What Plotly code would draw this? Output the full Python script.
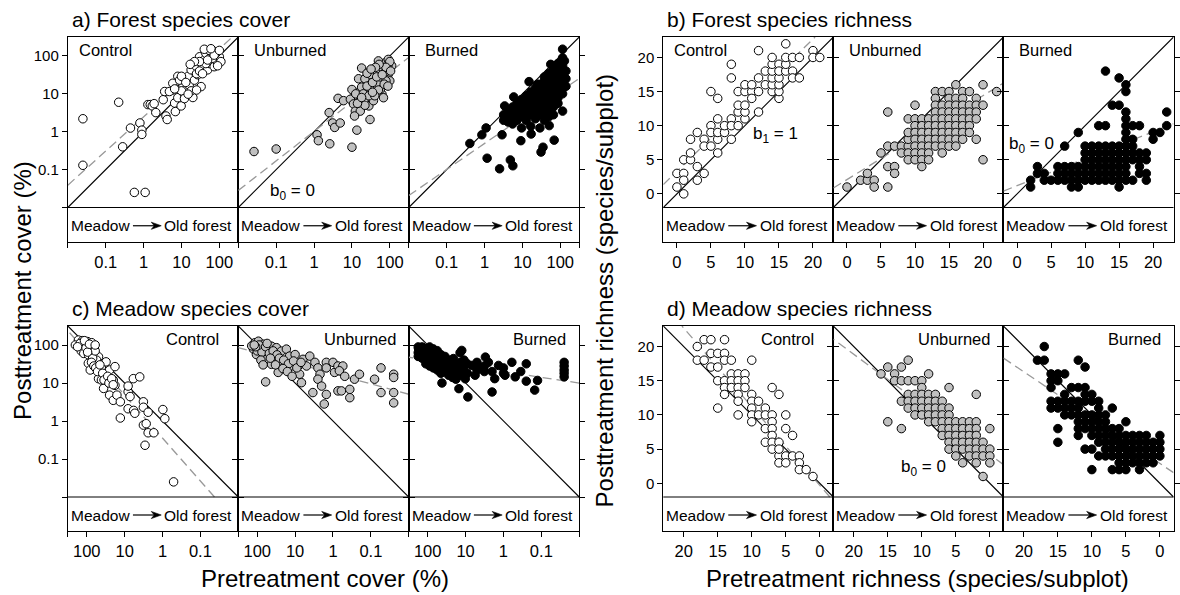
import numpy as np
import plotly.graph_objects as go

FONT = "Liberation Sans, Arial, Helvetica, sans-serif"
W, H = 1180, 595

treatments = ["Control", "Unburned", "Burned"]
fills = {"Control": "white", "Unburned": "#c0c0c0", "Burned": "black"}

# ---------------- data: (pretreatment, posttreatment) ----------------
# a) Forest species cover (%)
a_control = [(0.025, 2.2), (0.025, 0.13), (0.22, 6), (0.28, 0.4), (0.45, 1.25), (0.57, 0.025), (1.1, 0.025),
             (0.8, 1.7), (0.9, 1.1), (0.9, 0.85), (1.3, 5.2), (1.5, 5.2), (1.7, 4.8), (1.9, 5.5), (2.1, 3.2),
             (3.3, 7), (3.6, 11.5), (3.9, 2.6), (4.2, 2.1), (5.9, 12.6), (6.6, 5.7), (6.9, 3.4), (8, 29),
             (8.9, 13), (9.8, 4.8), (8, 7.9), (11, 16), (12, 9.8), (13, 13), (15, 29), (16, 17), (18, 43),
             (20, 8), (22, 23), (25, 52), (27, 32), (30, 95), (33, 15.5), (36, 52), (40, 78), (44, 117),
             (49, 43), (55, 63), (60, 95), (66, 140), (73, 52), (81, 78), (100, 95), (110, 71), (5.9, 19),
             (4.8, 11.5), (8.9, 23), (10, 29), (13, 20), (18, 12), (25, 34), (30, 40), (36, 34), (44, 63),
             (55, 140), (66, 87), (81, 117), (90, 55), (30, 71), (40, 150), (22, 71), (17, 60), (49, 78),
             (73, 105), (60, 155), (100, 140), (10, 12), (12, 7.5), (6.6, 13.5), (15, 9.8), (25, 12.6)]
a_unburned = [(0.026, 0.30), (0.10, 0.35), (1.2, 0.83), (1.3, 0.58), (2.6, 0.48), (2.5, 3.2), (3.1, 1.7),
              (3.5, 1.3), (4.9, 1.7), (4.3, 7.6), (6.0, 6.6), (10, 0.39), (13.5, 1.1), (30, 2.1), (10, 13),
              (9.1, 7.2), (11, 5.4), (12.3, 3.5), (16.6, 3.5), (11.7, 2.6), (18, 48), (15, 25), (22, 25),
              (18, 15), (25, 9.8), (28, 4.8), (34, 7.2), (41, 30), (41, 15), (50, 49), (62, 25), (62, 9.8),
              (76, 66), (76, 18), (91, 33), (91, 81), (112, 55), (100, 22), (50, 74), (68, 7.9), (30, 13),
              (37, 6.6), (25, 16), (56, 13), (83, 40), (46, 20), (12.6, 10), (16, 6.3), (20, 10), (32, 32),
              (35, 20), (45, 40), (50, 12.6), (56, 28), (63, 50), (71, 35), (79, 22), (89, 56), (100, 71),
              (25, 35), (28, 8.9), (40, 8.9), (22, 5), (14, 5.6), (18, 8), (35, 11), (45, 28), (71, 18),
              (79, 50), (105, 40), (52, 60), (42, 50), (32, 45), (89, 16), (63, 32)]
a_burned = [(0.41, 0.49), (0.85, 0.83), (1.1, 1.26), (1.17, 0.2), (2.5, 0.105), (2.9, 0.83), (3.4, 4.8),
            (4.8, 0.18), (5.6, 0.126), (5.9, 8.3), (9.1, 0.58), (15, 21), (17, 0.87), (31, 0.29), (35, 0.39),
            (69, 0.6), (51, 1.45), (115, 151), (129, 74), (105, 41), (85, 22), (115, 3.5), (56, 60), (25, 18),
            (3.2, 2.0), (3.2, 2.8), (4.2, 1.8), (4.2, 2.5), (4.2, 3.5), (5.5, 1.6), (5.5, 2.2), (5.5, 3.2),
            (5.5, 4.5), (7.2, 2.0), (7.2, 2.8), (7.2, 4.0), (7.2, 5.6), (9.5, 1.26), (9.5, 2.5), (9.5, 3.5),
            (9.5, 5.0), (9.5, 7.1), (12.6, 2.0), (12.6, 3.2), (12.6, 4.5), (12.6, 6.3), (12.6, 8.9),
            (16.6, 1.4), (16.6, 2.8), (16.6, 4.0), (16.6, 5.6), (16.6, 7.9), (16.6, 11.2), (22, 2.2),
            (22, 3.5), (22, 5.0), (22, 7.1), (22, 10), (22, 14), (29, 1.26), (29, 2.8), (29, 4.5), (29, 6.3),
            (29, 8.9), (29, 12.6), (29, 17.8), (38, 2.0), (38, 3.2), (38, 5.0), (38, 7.9), (38, 11.2),
            (38, 15.8), (38, 22), (38, 28), (50, 2.5), (50, 4.0), (50, 6.3), (50, 8.9), (50, 12.6),
            (50, 17.8), (50, 25), (50, 35), (66, 2.8), (66, 4.5), (66, 7.1), (66, 10), (66, 14), (66, 20),
            (66, 28), (66, 40), (66, 52), (87, 5.6), (87, 7.9), (87, 11.2), (87, 15.8), (87, 22), (87, 32),
            (87, 45), (87, 63), (115, 10), (115, 14), (115, 20), (115, 28), (115, 40), (115, 56), (115, 89),
            (141, 15.8), (141, 25), (141, 40)]

# b) Forest species richness (species/subplot)
b_control = [(0, 3), (1, 3), (0, 1), (1, 0), (1, 2), (1, 5), (2, 5), (2, 6), (2, 8), (3, 2), (3, 4), (3, 9),
             (4, 3), (4, 8), (4, 7), (5, 7), (5, 10), (5, 15), (5, 9), (6, 8), (6, 9), (6, 11), (6, 6), (6, 14),
             (7, 9), (7, 10), (8, 8), (8, 11), (8, 17), (8, 19), (8, 10), (9, 10), (9, 12), (9, 13), (9, 15),
             (10, 11), (10, 12), (10, 13), (10, 15), (10, 16), (11, 15), (11, 16), (11, 14), (12, 12), (12, 17),
             (12, 21), (12, 15), (13, 16), (13, 18), (14, 15), (14, 16), (14, 17), (14, 18), (14, 19), (14, 20),
             (15, 14), (15, 15), (15, 16), (15, 17), (15, 19), (15, 18), (16, 18), (16, 19), (16, 22), (16, 20),
             (17, 18), (17, 17), (17, 20), (18, 20), (18, 17), (20, 21), (20, 20), (21, 20)]
b_unburned = [(0, 1), (2, 2), (3, 2), (3, 3), (4, 2), (4, 1), (5, 6), (6, 7), (6, 4), (6, 12), (6, 1), (7, 7),
              (7, 4), (7, 3), (8, 7), (8, 6), (9, 7), (9, 11), (9, 6), (9, 5), (9, 8), (9, 9), (10, 13), (10, 11),
              (10, 10), (10, 9), (10, 8), (10, 7), (10, 6), (10, 5), (11, 11), (11, 10), (11, 9), (11, 8),
              (11, 7), (11, 6), (11, 5), (11, 4), (12, 11), (12, 10), (12, 9), (12, 8), (12, 7), (12, 6),
              (12, 5), (13, 15), (13, 14), (13, 13), (13, 12), (13, 11), (13, 10), (13, 9), (13, 8), (13, 7),
              (14, 15), (14, 13), (14, 12), (14, 11), (14, 10), (14, 9), (14, 8), (14, 7), (14, 6), (15, 15),
              (15, 14), (15, 13), (15, 12), (15, 11), (15, 10), (15, 9), (15, 8), (15, 7), (16, 16), (16, 14),
              (16, 13), (16, 12), (16, 11), (16, 10), (16, 9), (16, 8), (16, 7), (17, 15), (17, 14), (17, 13),
              (17, 12), (17, 11), (17, 10), (17, 9), (17, 8), (18, 15), (18, 13), (18, 12), (18, 11), (18, 10),
              (18, 9), (19, 14), (19, 13), (19, 12), (19, 11), (19, 8), (20, 16), (20, 13), (20, 5), (22, 15)]
b_burned = [(2, 1), (2, 2), (3, 4), (3, 3), (4, 3), (4, 2), (5, 2), (6, 2), (6, 3), (6, 4), (7, 2), (7, 3),
            (7, 4), (7, 7), (8, 1), (8, 2), (8, 3), (8, 4), (9, 1), (9, 2), (9, 3), (9, 4), (9, 9), (10, 2),
            (10, 3), (10, 4), (10, 5), (10, 6), (10, 7), (11, 2), (11, 3), (11, 4), (11, 5), (11, 6), (11, 7),
            (12, 2), (12, 3), (12, 4), (12, 5), (12, 6), (12, 7), (12, 10), (13, 2), (13, 3), (13, 4), (13, 5),
            (13, 6), (13, 7), (13, 10), (13, 18), (14, 2), (14, 3), (14, 4), (14, 5), (14, 6), (14, 7), (14, 13),
            (15, 1), (15, 2), (15, 3), (15, 4), (15, 5), (15, 6), (15, 7), (15, 13), (15, 17), (16, 2), (16, 3),
            (16, 4), (16, 5), (16, 6), (16, 7), (16, 8), (16, 9), (16, 10), (16, 11), (16, 12), (16, 15),
            (16, 16), (17, 2), (17, 5), (17, 6), (17, 7), (17, 8), (17, 10), (18, 3), (18, 4), (18, 5), (18, 6),
            (18, 10), (19, 2), (19, 3), (19, 5), (19, 6), (20, 8), (20, 9), (21, 9), (22, 10), (22, 12)]

# c) Meadow species cover (%)
c_control = [(166, 135), (123, 110), (95, 123), (74, 115), (148, 91), (110, 74), (85, 81), (66, 60), (49, 49),
             (91, 33), (81, 22), (55, 40), (41, 27), (31, 36), (45, 18), (49, 13), (41, 12), (31, 14.5),
             (25, 22), (18, 27), (36, 7.2), (25, 4.8), (20, 3.5), (18, 8.7), (20, 12), (16, 4.8), (13, 1.2),
             (13, 3.2), (8.1, 5.9), (7.2, 4.4), (8.1, 2.1), (5.9, 13), (4.0, 14.5), (8.1, 8.3), (5.8, 1.9),
             (5.4, 1.6), (3.2, 3.2), (3.2, 2.3), (2.4, 1.7), (3.2, 0.78), (2.7, 0.85), (2.9, 0.23),
             (2.4, 0.49), (1.7, 0.49), (0.98, 2.0), (0.87, 1.15), (0.51, 0.025), (200, 100), (130, 130),
             (100, 95), (80, 90), (140, 70), (120, 60), (90, 55), (70, 45), (60, 70), (150, 110), (105, 85),
             (115, 130), (75, 35), (65, 28), (58, 25), (52, 20), (45, 30), (38, 18), (35, 12), (28, 15),
             (26, 10), (22, 13), (20, 9), (95, 65), (85, 105), (175, 90), (60, 100)]
c_unburned = [(126, 78), (115, 115), (93, 126), (85, 85), (69, 105), (105, 56), (63, 56), (51, 78), (42, 93),
              (31, 85), (23, 69), (17, 78), (56, 42), (42, 31), (28, 19), (19, 35), (14, 51), (10, 56),
              (35, 51), (25, 38), (12.6, 28), (8.3, 28), (6.2, 42), (4.1, 51), (5.0, 28), (7.6, 17), (3.0, 35),
              (2.5, 25), (2.2, 17), (2.5, 12.6), (2.0, 8.3), (3.4, 5.6), (1.5, 35), (1.0, 35), (1.5, 25),
              (0.91, 19), (0.74, 28), (0.55, 28), (0.68, 21), (1.5, 5.0), (1.7, 2.8), (0.74, 6.2), (0.6, 6.2),
              (0.36, 6.8), (0.36, 4.1), (0.49, 15), (0.27, 12.6), (0.2, 17), (0.08, 12.6), (0.054, 25),
              (0.054, 5.6), (0.025, 17), (0.025, 14), (0.025, 5.6), (0.025, 3.0), (60, 10.7), (6.8, 10.2),
              (140, 95), (100, 70), (75, 65), (90, 100), (60, 90), (48, 60), (38, 70), (30, 55), (26, 45),
              (20, 40), (15, 32), (11, 38), (9, 25), (7, 35), (45, 45), (33, 30), (21, 24), (16, 20), (12, 15),
              (80, 40), (70, 30), (110, 90), (55, 110), (120, 100)]
c_burned = [(174, 79), (141, 59), (115, 72), (93, 54), (78, 72), (63, 44), (47, 32), (42, 10), (35, 40),
            (25, 26), (21, 44), (17, 19.5), (15, 7.1), (12.6, 72), (11.2, 26), (10.2, 12.9), (8.7, 4.3),
            (6.8, 29), (5.6, 16), (4.1, 26), (3.0, 48), (2.5, 35), (2.0, 5.8), (1.7, 13), (1.35, 29),
            (0.91, 16), (0.6, 35), (0.49, 14.5), (0.25, 32), (0.25, 11.2), (0.15, 6.5), (0.126, 11.7),
            (0.025, 35), (0.025, 28), (0.025, 22), (0.025, 18), (0.025, 14.5), (178, 89), (178, 63),
            (178, 50), (141, 89), (141, 71), (141, 45), (112, 79), (112, 56), (112, 40), (112, 32), (89, 89),
            (89, 63), (89, 40), (89, 28), (71, 79), (71, 56), (71, 35), (71, 25), (56, 71), (56, 50), (56, 32),
            (56, 22), (45, 56), (45, 35), (45, 25), (45, 18), (35, 50), (35, 28), (35, 20), (28, 40), (28, 32),
            (28, 22), (28, 16), (22, 35), (22, 20), (22, 14), (18, 32), (18, 25), (18, 12.6), (14, 63),
            (14, 35), (14, 20), (14, 16), (11, 40), (11, 20), (9, 32), (9, 18), (5, 35), (5, 22), (3.2, 28),
            (3.2, 20), (2, 20), (1, 25), (1, 18), (0.35, 20)]

# d) Meadow species richness (species/subplot)
d_control = [(18, 20), (18, 18), (17, 18), (17, 21), (16, 21), (16, 17), (16, 19), (15, 19), (15, 17), (15, 15),
             (15, 11), (14, 21), (14, 19), (14, 18), (14, 15), (14, 14), (14, 13), (13, 18), (13, 16), (13, 15),
             (13, 14), (12, 16), (12, 15), (12, 14), (12, 13), (12, 12), (12, 10), (11, 16), (11, 15), (11, 14),
             (10, 18), (10, 13), (10, 12), (10, 11), (10, 10), (10, 9), (9, 12), (9, 10), (8, 11), (8, 10),
             (8, 8), (8, 6), (7, 14), (7, 10), (7, 9), (7, 8), (7, 7), (7, 6), (7, 5), (6, 13), (6, 6), (6, 4),
             (6, 3), (6, 5), (5, 10), (5, 8), (5, 4), (5, 3), (4, 7), (4, 4), (3, 4), (3, 3), (3, 2), (2, 2),
             (1, 1)]
d_unburned = [(16, 16), (15, 17), (15, 9), (14, 16), (14, 15), (13, 17), (13, 15), (13, 12), (13, 8), (12, 18),
              (12, 15), (12, 13), (12, 12), (12, 11), (11, 15), (11, 13), (11, 12), (11, 11), (11, 10), (10, 15),
              (10, 14), (10, 13), (10, 12), (10, 11), (10, 10), (9, 16), (9, 13), (9, 12), (9, 11), (9, 10),
              (9, 9), (8, 13), (8, 12), (8, 11), (8, 10), (8, 9), (7, 12), (7, 11), (7, 10), (7, 9), (7, 8),
              (7, 7), (6, 14), (6, 11), (6, 10), (6, 9), (6, 8), (6, 7), (6, 6), (6, 5), (5, 9), (5, 8), (5, 7),
              (5, 6), (5, 5), (5, 4), (4, 9), (4, 8), (4, 7), (4, 6), (4, 5), (4, 3), (3, 9), (3, 8), (3, 7),
              (3, 6), (3, 5), (3, 4), (2, 13), (2, 9), (2, 8), (2, 7), (2, 6), (2, 5), (2, 4), (2, 3), (1, 6),
              (1, 5), (1, 4), (1, 1), (0, 8), (0, 5), (0, 4), (0, 3)]
d_burned = [(18, 18), (17, 18), (17, 20), (16, 16), (16, 15), (16, 14), (16, 12), (16, 11), (15, 16), (15, 15),
            (15, 12), (15, 11), (15, 8), (15, 6), (14, 16), (14, 13), (14, 12), (14, 11), (14, 10), (13, 14),
            (13, 12), (13, 11), (13, 10), (12, 18), (12, 14), (12, 12), (12, 11), (12, 10), (12, 9), (12, 8),
            (12, 7), (11, 17), (11, 14), (11, 13), (11, 12), (11, 10), (11, 9), (11, 8), (11, 5), (10, 13),
            (10, 12), (10, 10), (10, 9), (10, 8), (10, 7), (10, 5), (10, 2), (9, 12), (9, 11), (9, 10), (9, 9),
            (9, 8), (9, 7), (9, 6), (9, 4), (8, 10), (8, 9), (8, 8), (8, 7), (8, 6), (8, 5), (8, 4), (7, 11),
            (7, 8), (7, 7), (7, 6), (7, 5), (7, 4), (7, 2), (6, 8), (6, 7), (6, 6), (6, 5), (6, 4), (6, 3),
            (6, 2), (5, 9), (5, 7), (5, 6), (5, 5), (5, 4), (5, 3), (5, 2), (4, 7), (4, 6), (4, 5), (4, 4),
            (4, 3), (3, 7), (3, 6), (3, 5), (3, 4), (3, 3), (3, 2), (2, 7), (2, 6), (2, 5), (2, 4), (2, 3),
            (1, 6), (1, 5), (1, 4), (1, 3), (0, 7), (0, 6), (0, 5), (0, 4)]

# fitted lines (intercept, slope); cover panels in log10 units
fits = {
    "a": [(0.39, 0.90), (0.01, 0.78), (-0.31, 0.687)],
    "b": [(3.3, 0.97), (2.1, 0.615), (1.2, 0.395)],
    "c": [(-0.45, 1.13), (1.25, 0.273), (1.30, 0.151)],
    "d": [(-0.3, 1.15), (4.2, 0.733), (2.9, 0.67)],
}
data = {"a": [a_control, a_unburned, a_burned], "b": [b_control, b_unburned, b_burned],
        "c": [c_control, c_unburned, c_burned], "d": [d_control, d_unburned, d_burned]}

# coefficient notes: (group, panel index, x, y, text)
notes = [("a", 1, 0.27, 0.025, "b<sub>0</sub> = 0"), ("b", 0, 14.5, 8.6, "b<sub>1</sub> = 1"),
         ("b", 2, 2.1, 7.2, "b<sub>0</sub> = 0"), ("d", 1, 9.8, 2.2, "b<sub>0</sub> = 0")]

cover_ticks = [0.1, 1, 10, 100]
cover_ticktext = ["0.1", "1", "10", "100"]
rich_ticks = [0, 5, 10, 15, 20]

groups = {
    "a": dict(title="a) Forest species cover", left=68, pw=170.9, top=37, sep=207.5, bot=242, log=True, rev=False, side="left"),
    "b": dict(title="b) Forest species richness", left=665, pw=170.5, top=37, sep=207.5, bot=242, log=False, rev=False, side="left"),
    "c": dict(title="c) Meadow species cover", left=68, pw=170.9, top=326, sep=497, bot=531, log=True, rev=True, side="right"),
    "d": dict(title="d) Meadow species richness", left=665, pw=170.5, top=326, sep=497, bot=531, log=False, rev=True, side="right"),
}

fig = go.Figure()
layout = {}
annotations = []
shapes = []


def px(xp):
    return xp / W


def py(yp):
    return 1 - yp / H


k = 0
for g, P in groups.items():
    lo, hi = (-2.0, 2.5) if P["log"] else (-2.0, 23.0)
    strip = (P["bot"] - P["sep"]) / (P["sep"] - P["top"]) * (hi - lo)
    for i, t in enumerate(treatments):
        k += 1
        sfx = "" if k == 1 else str(k)
        xa, ya = "x" + sfx, "y" + sfx
        x0 = P["left"] + i * P["pw"]
        x1 = x0 + P["pw"]
        common = dict(showgrid=False, zeroline=False, showline=True, linecolor="black", linewidth=1,
                      ticks="outside", ticklen=5, tickwidth=1, tickcolor="black")
        if P["log"]:
            xt, xtt = cover_ticks, cover_ticktext
            yt, ytt = cover_ticks, cover_ticktext
            xminor = dict(tickmode="array", tickvals=[10 ** lo, 10 ** hi], ticks="outside", ticklen=5,
                          tickwidth=1, tickcolor="black", showgrid=False)
            yminor = dict(tickmode="array", tickvals=[10 ** lo], ticks="outside", ticklen=5,
                          tickwidth=1, tickcolor="black", showgrid=False)
        else:
            xt, xtt = rich_ticks, [str(v) for v in rich_ticks]
            yt, ytt = rich_ticks, [str(v) for v in rich_ticks]
            xminor = yminor = dict(ticks="")
        layout["xaxis" + sfx] = dict(
            domain=[px(x0), px(x1)], anchor=ya, type="log" if P["log"] else "linear",
            range=[hi, lo] if P["rev"] else [lo, hi], tickmode="array", tickvals=xt, ticktext=xtt,
            mirror=True, minor=xminor, tickfont=dict(size=16.5, family=FONT, color="black"), **common)
        layout["yaxis" + sfx] = dict(
            domain=[py(P["bot"]), py(P["top"])], anchor=xa, type="log" if P["log"] else "linear",
            range=[lo - strip, hi], tickmode="array", tickvals=yt, ticktext=ytt, mirror="allticks",
            minor=yminor, showticklabels=(i == 0), tickfont=dict(size=15, family=FONT, color="black"), **common)

        tf = (lambda v: 10 ** np.asarray(v)) if P["log"] else (lambda v: np.asarray(v))
        # 1:1 line
        fig.add_trace(go.Scatter(x=tf([lo, hi]), y=tf([lo, hi]), mode="lines", xaxis=xa, yaxis=ya,
                                 line=dict(color="black", width=1.1), hoverinfo="skip"))
        # fitted dashed line clipped to the plotting box
        b0, b1 = fits[g][i]
        ua, ub = (lo - b0) / b1, (hi - b0) / b1
        u0, u1 = max(lo, min(ua, ub)), min(hi, max(ua, ub))
        us = np.array([u0, u1])
        fig.add_trace(go.Scatter(x=tf(us), y=tf(b0 + b1 * us), mode="lines", xaxis=xa, yaxis=ya,
                                 line=dict(color="#999999", width=1.3, dash="9px,5px"), hoverinfo="skip"))
        pts = data[g][i]
        fig.add_trace(go.Scatter(x=[p[0] for p in pts], y=[p[1] for p in pts], mode="markers",
                                 xaxis=xa, yaxis=ya, cliponaxis=True,
                                 marker=dict(size=8.5, color=fills[t], line=dict(color="black", width=1))))
        # treatment label
        if P["side"] == "left":
            inset = 9 if i == 0 else 14
            annotations.append(dict(x=px(x0 + inset), y=py(P["top"] + 13), xref="paper", yref="paper",
                                    text=t, showarrow=False, xanchor="left", yanchor="middle",
                                    font=dict(size=16.5, family=FONT, color="black")))
        else:
            inset = 17 if i == 0 else 11
            annotations.append(dict(x=px(x1 - inset), y=py(P["top"] + 13), xref="paper", yref="paper",
                                    text=t, showarrow=False, xanchor="right", yanchor="middle",
                                    font=dict(size=16.5, family=FONT, color="black")))
        # strip text + arrow (arrow drawn as shapes)
        ymid = (P["sep"] + P["bot"]) / 2 + 1
        ys = py(ymid)
        annotations.append(dict(x=px(x0 + 0.375 * P["pw"]), y=ys, xref="paper", yref="paper", text="Meadow",
                                showarrow=False, xanchor="right", yanchor="middle",
                                font=dict(size=15.5, family=FONT, color="black")))
        annotations.append(dict(x=px(x0 + 0.555 * P["pw"]), y=ys, xref="paper", yref="paper", text="Old forest",
                                showarrow=False, xanchor="left", yanchor="middle",
                                font=dict(size=15.5, family=FONT, color="black")))
        tail = x0 + 0.382 * P["pw"]
        tip = x0 + 0.548 * P["pw"]
        shapes.append(dict(type="line", xref="paper", yref="paper", x0=px(tail), x1=px(tip - 5),
                           y0=py(ymid), y1=py(ymid), line=dict(color="black", width=1.2)))
        head = "M {:.5f},{:.5f} L {:.5f},{:.5f} L {:.5f},{:.5f} L {:.5f},{:.5f} Z".format(
            px(tip), py(ymid), px(tip - 10), py(ymid - 3.6), px(tip - 7), py(ymid), px(tip - 10), py(ymid + 3.6))
        shapes.append(dict(type="path", xref="paper", yref="paper", path=head, fillcolor="black",
                           line=dict(color="black", width=0.6)))
        for (ng, ni, nx, ny, ntext) in notes:
            if ng == g and ni == i:
                annotations.append(dict(x=np.log10(nx) if P["log"] else nx, y=np.log10(ny) if P["log"] else ny,
                                        xref=xa, yref=ya, text=ntext, showarrow=False, xanchor="center",
                                        yanchor="middle", font=dict(size=17, family=FONT, color="black")))
    # separator between plotting area and strip
    shapes.append(dict(type="line", xref="paper", yref="paper", x0=px(P["left"]), x1=px(P["left"] + 3 * P["pw"]),
                       y0=py(P["sep"]), y1=py(P["sep"]), line=dict(color="black", width=1)))
    annotations.append(dict(x=px(P["left"] + 2), y=py(P["top"] - 18), xref="paper", yref="paper", text=P["title"],
                            showarrow=False, xanchor="left", yanchor="middle",
                            font=dict(size=21, family=FONT, color="black")))

# axis titles
annotations += [
    dict(x=px(22), y=py(290), xref="paper", yref="paper", text="Posttreatment cover (%)", textangle=-90,
         xanchor="center", yanchor="middle", showarrow=False, font=dict(size=24, family=FONT, color="black")),
    dict(x=px(606), y=py(290), xref="paper", yref="paper", text="Posttreatment richness (species/subplot)",
         textangle=-90, xanchor="center", yanchor="middle", showarrow=False,
         font=dict(size=24, family=FONT, color="black")),
    dict(x=px(326), y=py(578), xref="paper", yref="paper", text="Pretreatment cover (%)", xanchor="center",
         yanchor="middle", showarrow=False, font=dict(size=24, family=FONT, color="black")),
    dict(x=px(920), y=py(578), xref="paper", yref="paper", text="Pretreatment richness (species/subplot)",
         xanchor="center", yanchor="middle", showarrow=False, font=dict(size=24, family=FONT, color="black")),
]

fig.update_layout(**layout)
fig.update_layout(width=W, height=H, margin=dict(l=0, r=0, t=0, b=0), showlegend=False,
                  paper_bgcolor="white", plot_bgcolor="rgba(0,0,0,0)", annotations=annotations,
                  shapes=shapes, font=dict(family=FONT, color="black"))
fig.write_html("out.html")
